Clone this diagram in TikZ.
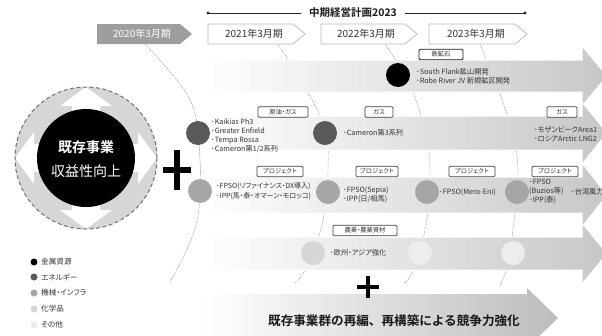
\documentclass[tikz,border=0pt]{standalone}
\usepackage{fontspec}
\setmainfont{Noto Sans CJK JP}[BoldFont={Noto Sans CJK JP Bold}, RawFeature=+palt]
\newfontfamily\jpfull{Noto Sans CJK JP}[BoldFont={Noto Sans CJK JP Bold}]
\newcommand\fsz[2]{\fontsize{#1}{#2}\selectfont}
\definecolor{cEnergy}{HTML}{595959}
\definecolor{cMach}{HTML}{A6A6A6}
\definecolor{cChem}{HTML}{D6D6D6}
\definecolor{cOther}{HTML}{EDEDED}
\definecolor{arcgray}{HTML}{9A9A9A}
\begin{document}
\begin{tikzpicture}[x=1pt,y=-1pt,
  tag/.style={draw=black!75, fill=white, rounded corners=1.2pt, line width=0.7pt, inner sep=0pt, minimum height=10.5pt, font=\fsz{6.3}{7}, text=black!80},
  dot/.style={circle, inner sep=0pt, minimum size=24pt},
  bul/.style={anchor=west, align=left, inner sep=0pt, font=\fsz{7.2}{9}, text=black!80},
  period/.style={draw=black!28, line width=0.7pt, fill=white},
  pertext/.style={inner sep=0pt, font=\jpfull\fsz{10}{12}, text=black!80},
  arcline/.style={draw=arcgray, line width=0.45pt, dash pattern=on 1.6pt off 0.9pt},
  band/.style={left color=white, right color=black!22, draw=white, line width=1pt},
  legdot/.style={circle, inner sep=0pt, minimum size=7pt},
  legtext/.style={anchor=west, inner sep=0pt, font=\fsz{7.6}{9}, text=black!80},
]
\useasboundingbox (0,0) rectangle (602,335);
\clip (0,0) rectangle (602,335);

% ---- title line
\node[font=\jpfull\fsz{10.5}{12}\bfseries, inner xsep=8pt, inner ysep=1pt, text=black!90] (plan) at (353,13) {中期経営計画2023};
\coordinate (pl) at (208,13);
\coordinate (pr) at (525,13);
\draw[line width=1pt, black!85] (pl) -- (plan.west);
\draw[line width=1pt, black!85] (plan.east) -- (pr);
\fill[black!85] (pl) circle (1.7);
\fill[black!85] (pr) circle (1.7);

% ---- dashed period arcs
\draw[arcline] plot[smooth, tension=0.6] coordinates {(145,44) (190,100) (200,160) (196,225) (170,282)};
\draw[arcline] plot[smooth, tension=0.6] coordinates {(278,44) (322,120) (328,170) (322,225) (305,270) (295,283)};
\draw[arcline] plot[smooth, tension=0.6] coordinates {(385,44) (410,85) (426,135) (430,175) (426,225) (414,268) (405,283)};
\draw[arcline] plot[smooth, tension=0.6] coordinates {(480,44) (501,97) (514,140) (518,175) (513,230) (507,268) (500,285)};

% ---- period chevrons
\path[fill=black!38] (97,24) -- (180,24) -- (192,34) -- (180,44) -- (97,44) -- cycle;
\node[pertext, text=white] (p2020) at (142,34) {2020年3月期};
\path[period] (208,24) -- (293,24) -- (305,34) -- (293,44) -- (208,44) -- cycle;
\node[pertext] (p2021) at (254,34) {2021年3月期};
\path[period] (321,24) -- (405,24) -- (417,34) -- (405,44) -- (321,44) -- cycle;
\node[pertext] (p2022) at (366,34) {2022年3月期};
\path[period] (429,24) -- (515,24) -- (527,34) -- (515,44) -- (429,44) -- cycle;
\node[pertext] (p2023) at (476,34) {2023年3月期};

% ---- bands (big arrows)
\path[band] (203,60) -- (582,60) -- (582,46) -- (607,76) -- (582,106) -- (582,92) -- (203,92) -- cycle;
\path[band] (203,116) -- (582,116) -- (582,102) -- (607,133) -- (582,164) -- (582,150) -- (203,150) -- cycle;
\path[band] (203,177) -- (582,177) -- (582,163) -- (607,195) -- (582,227) -- (582,213) -- (203,213) -- cycle;
\path[band] (203,237) -- (582,237) -- (582,223) -- (607,253.5) -- (582,284) -- (582,270) -- (203,270) -- cycle;
\path[left color=white, right color=black!26] (203,294) -- (527,294) -- (527,288) -- (558,318) -- (527,348) -- (527,342) -- (203,342) -- cycle;
\node[font=\jpfull\fsz{12.6}{14}\bfseries, text=black!90, inner sep=0pt] (bottomtxt) at (394,321) {既存事業群の再編、再構築による競争力強化};

% ---- big circle
\fill[cChem] (86,158) circle (71);
\fill[white] (86,87) -- (112,106) -- (100,106) -- (100,210) -- (112,210) -- (86,229) -- (60,210) -- (72,210) -- (72,106) -- (60,106) -- cycle;
\fill[white] (15,158) -- (34,132) -- (34,144) -- (138,144) -- (138,132) -- (157,158) -- (138,184) -- (138,172) -- (34,172) -- (34,184) -- cycle;
\draw[black!55, line width=1pt, dash pattern=on 4pt off 2.5pt] (86,158) circle (71);
\node[circle, fill=black, minimum size=98pt, inner sep=0pt] (core) at (86,158) {};
\node[font=\jpfull\fsz{14}{16}\bfseries, text=white, inner sep=0pt] (core1) at (86,147) {既存事業};
\node[font=\jpfull\fsz{14}{16}, text=white, inner sep=0pt] (core2) at (86,171) {収益性向上};

% ---- plus signs
\draw[line width=6pt] (163,170) -- (191,170);
\draw[line width=6pt] (177,150) -- (177,190);
\draw[line width=4pt] (357,287) -- (379,287);
\draw[line width=4pt] (368,276) -- (368,298);

% ---- band 1: metal
\node[tag, minimum width=44pt, draw=black!90, line width=0.9pt] (t1) at (441,54.5) {鉄鉱石};
\node[dot, fill=black] (m1) at (398,75) {};
\node[bul] (m1t) at (416,76.5) {･South Flank鉱山開発\\･Robe River JV 新規鉱区開発};

% ---- band 2: energy
\node[tag, minimum width=50pt] (t2) at (283,112) {原油・ガス};
\node[dot, fill=cEnergy] (e1) at (198,133) {};
\node[bul] (e1t) at (211,136) {･Kaikias Ph3\\･Greater Enfield\\･Tempa Rossa\\･Cameron第1/2系列};
\node[tag, minimum width=28pt] (t3) at (379,112) {ガス};
\node[dot, fill=cEnergy] (e2) at (325,133) {};
\node[bul] (e2t) at (343,133) {･Cameron第3系列};
\node[tag, minimum width=30pt] (t4) at (562,112) {ガス};
\node[bul] (e3t) at (534,134.5) {･モザンビークArea1\\･ロシアArctic LNG2};

% ---- band 3: machinery
\node[tag, minimum width=46pt] (t5) at (280,171.5) {プロジェクト};
\node[dot, fill=cMach] (k1) at (200,191) {};
\node[bul, font=\fsz{7}{10}] (k1t) at (216,191.5) {･FPSO(リファイナンス・DX導入)\\･IPP(馬・泰・オマーン・モロッコ)};
\node[tag, minimum width=42pt] (t6) at (377,171.5) {プロジェクト};
\node[dot, fill=cMach] (k2) at (328,192) {};
\node[bul] (k2t) at (343,194.5) {･FPSO(Sepia)\\･IPP(日/相馬)};
\node[tag, minimum width=46pt] (t7) at (472,171.5) {プロジェクト};
\node[dot, fill=cMach] (k3) at (427,192) {};
\node[bul] (k3t) at (439,192) {･FPSO(Mero-Eni)};
\node[tag, minimum width=46pt] (t8) at (555,171.5) {プロジェクト};
\node[dot, fill=cMach] (k4) at (517,192) {};
\node[bul] (k4t) at (529,192) {･FPSO\\(Buzios等)\\･IPP(泰)};
\node[bul] (k5t) at (571,192) {･台湾風力};

% ---- band 4
\node[tag, minimum width=64pt] (t9) at (365,230.5) {農業・農業資材};
\node[dot, fill=cChem] (c1) at (313,253) {};
\node[bul] (c1t) at (330,253) {･欧州・アジア強化};
\node[dot, fill=cOther] (c2) at (420,253) {};
\node[dot, fill=cOther] (c3) at (513,253) {};

% ---- legend
\node[legdot, fill=black] (l1) at (34,262) {};
\node[legtext] (l1t) at (41,262) {金属資源};
\node[legdot, fill=cEnergy] (l2) at (34,277) {};
\node[legtext] (l2t) at (41,277) {エネルギー};
\node[legdot, fill=cMach] (l3) at (34,293) {};
\node[legtext] (l3t) at (41,293) {機械・インフラ};
\node[legdot, fill=cChem] (l4) at (34,309) {};
\node[legtext] (l4t) at (41,309) {化学品};
\node[legdot, fill=cOther] (l5) at (34,325) {};
\node[legtext] (l5t) at (41,325) {その他};
\end{tikzpicture}
\end{document}
